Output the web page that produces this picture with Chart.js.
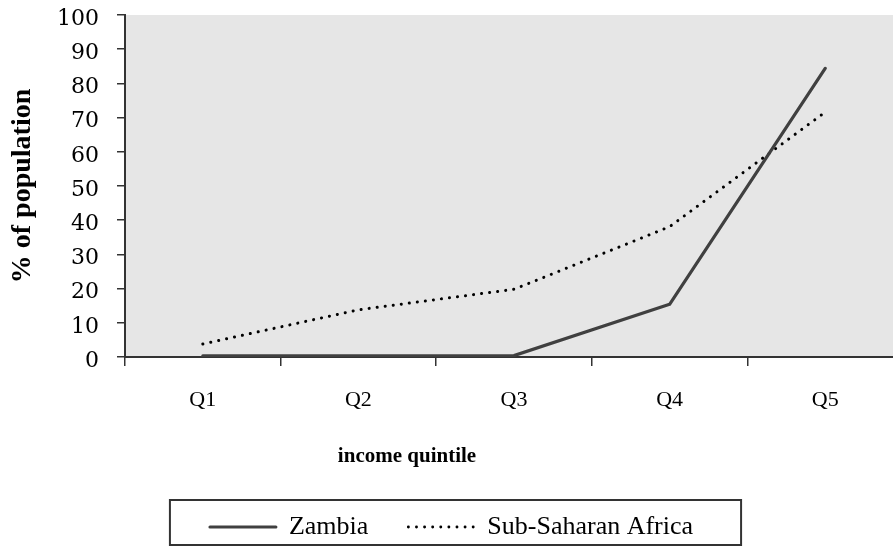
<!DOCTYPE html>
<html><head><meta charset="utf-8">
<script src="https://cdn.jsdelivr.net/npm/chart.js@4/dist/chart.umd.min.js"></script>
<style>html,body{margin:0;padding:0;overflow:hidden;background:#fff;width:893px;height:546px}canvas{display:block}</style>
</head><body>
<canvas id="c" width="903" height="546"></canvas>
<script>
const categories = ['Q1', 'Q2', 'Q3', 'Q4', 'Q5'];
const seriesNames = ['Zambia', 'Sub-Saharan Africa'];
const zambia = [0.3, 0.3, 0.4, 15.4, 84.4];
const ssa = [3.8, 13.8, 19.8, 38.1, 71.6];
const yTickValues = [0, 10, 20, 30, 40, 50, 60, 70, 80, 90, 100];
const xTitle = 'income quintile';
const yTitle = '% of population';

const deco = {
  id: 'deco',
  beforeDraw(chart) {
    const a = chart.chartArea, ctx = chart.ctx;
    ctx.save();
    ctx.fillStyle = '#e6e6e6';
    ctx.fillRect(a.left, a.top, a.right - a.left, a.bottom - a.top);
    ctx.restore();
  },
  afterDraw(chart) {
    const ctx = chart.ctx;
    ctx.save();
    ctx.fillStyle = '#000';
    ctx.font = 'bold 21px "Liberation Serif"';
    ctx.textAlign = 'center';
    ctx.textBaseline = 'alphabetic';
    ctx.fillText(xTitle, 407, 462);
    ctx.translate(22.5, (chart.chartArea.top + chart.chartArea.bottom) / 2);
    ctx.rotate(-Math.PI / 2);
    ctx.font = 'bold 28px "Liberation Serif"';
    ctx.textBaseline = 'middle';
    ctx.fillText(yTitle, 0, 0);
    ctx.restore();
    const hb = chart.legend.legendHitBoxes;
    if (hb && hb.length) {
      const first = hb[0], last = hb[hb.length - 1];
      const l = first.left - 40, r = last.left + last.width + 48;
      ctx.save();
      ctx.strokeStyle = '#333';
      ctx.lineWidth = 2;
      ctx.strokeRect(l, 500, r - l, 45);
      ctx.restore();
    }
  }
};

new Chart(document.getElementById('c'), {
  type: 'line',
  data: {
    labels: categories,
    datasets: [
      { label: seriesNames[0], data: zambia, borderColor: '#404040', backgroundColor: '#404040',
        borderWidth: 3.2, pointRadius: 0, tension: 0, borderCapStyle: 'round', borderJoinStyle: 'round' },
      { label: seriesNames[1], data: ssa, borderColor: '#000', backgroundColor: '#000',
        borderWidth: 3, pointRadius: 0, tension: 0, borderDash: [0.1, 8], borderCapStyle: 'round' }
    ]
  },
  options: {
    responsive: false,
    animation: false,
    layout: { padding: { top: 15, right: 0, bottom: -4, left: 0 } },
    plugins: {
      tooltip: { enabled: false },
      legend: {
        position: 'bottom',
        labels: {
          usePointStyle: true, pointStyle: 'line', pointStyleWidth: 66,
          padding: 40, color: '#000',
          font: { family: '"Liberation Serif"', size: 26 },
          generateLabels(chart) {
            const items = Chart.defaults.plugins.legend.labels.generateLabels(chart);
            items.forEach(it => {
              const ds = chart.data.datasets[it.datasetIndex];
              it.lineDash = ds.borderDash || [];
              it.lineCap = ds.borderCapStyle || 'butt';
              it.lineWidth = ds.borderDash ? 2.8 : 3;
              it.strokeStyle = ds.borderColor;
            });
            return items;
          }
        }
      }
    },
    scales: {
      x: {
        offset: true,
        grid: { offset: true, drawOnChartArea: false, tickLength: 9, color: '#333', lineWidth: 1.5 },
        border: { color: '#333', width: 2 },
        ticks: { color: '#000', padding: 21, font: { family: '"Liberation Serif"', size: 22 } },
        afterFit(s) { s.height = 117; s.paddingLeft = 0; s.paddingRight = 0; }
      },
      y: {
        min: 0, max: 100,
        afterBuildTicks(s) { s.ticks = yTickValues.map(v => ({ value: v })); },
        grid: { drawOnChartArea: false, tickLength: 8, color: '#333', lineWidth: 1.5 },
        border: { color: '#333', width: 2 },
        ticks: { color: '#000', padding: 18, labelOffset: 4, font: { family: '"DejaVu Serif"', size: 22 } },
        afterFit(s) { s.width = 125; s.paddingTop = 0; s.paddingBottom = 0; }
      }
    }
  },
  plugins: [deco]
});
</script>
</body></html>
